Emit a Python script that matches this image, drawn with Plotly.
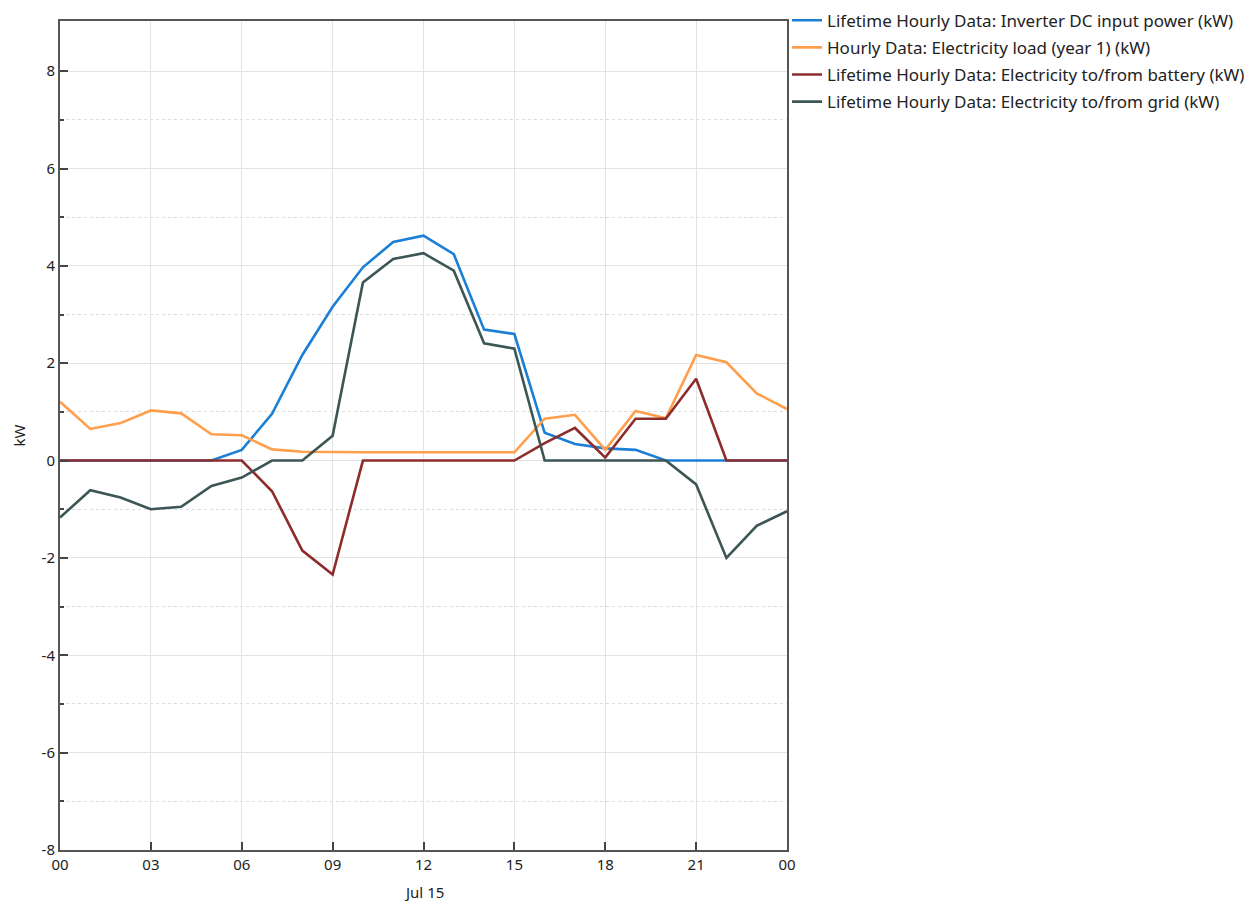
import plotly.graph_objects as go

hours = list(range(25))
inverter_dc = [0, 0, 0, 0, 0, 0, 0.22, 0.96, 2.17, 3.16, 3.97, 4.49, 4.62, 4.24, 2.69, 2.6,
               0.57, 0.34, 0.25, 0.22, 0, 0, 0, 0, 0]
load = [1.21, 0.65, 0.77, 1.03, 0.97, 0.54, 0.52, 0.23, 0.18, 0.17, 0.17, 0.17, 0.17, 0.17, 0.17, 0.17,
        0.86, 0.94, 0.22, 1.02, 0.87, 2.17, 2.02, 1.38, 1.06]
battery = [0, 0, 0, 0, 0, 0, 0, -0.63, -1.85, -2.34, 0, 0, 0, 0, 0, 0,
           0.36, 0.67, 0.06, 0.86, 0.86, 1.68, 0, 0, 0]
grid = [-1.17, -0.61, -0.76, -1.0, -0.95, -0.52, -0.35, 0, 0, 0.51, 3.66, 4.14, 4.26, 3.9, 2.41, 2.3,
        0, 0, 0, 0, 0, -0.49, -2.0, -1.34, -1.04]

series_names = [
    "Lifetime Hourly Data: Inverter DC input power (kW)",
    "Hourly Data: Electricity load (year 1) (kW)",
    "Lifetime Hourly Data: Electricity to/from battery (kW)",
    "Lifetime Hourly Data: Electricity to/from grid (kW)",
]
series_values = [inverter_dc, load, battery, grid]
series_colors = ["#1a7fd5", "#ff9f4c", "#8e2c2c", "#3c5555"]

x_tickvals = [0, 3, 6, 9, 12, 15, 18, 21, 24]
x_ticktext = ["00", "03", "06", "09", "12", "15", "18", "21", "00"]
y_tickvals = [-8, -6, -4, -2, 0, 2, 4, 6, 8]
y_ticktext = ["-8", "-6", "-4", "-2", "0", "2", "4", "6", "8"]
y_minor_vals = [-7, -5, -3, -1, 1, 3, 5, 7]
date_label = "Jul 15"
date_label_hour = 12

fig = go.Figure()
for i, (name, vals, col) in enumerate(zip(series_names, series_values, series_colors)):
    fig.add_trace(go.Scatter(x=hours, y=vals, mode="lines", name=name, legendgroup=f"g{i}",
                             line=dict(color=col, width=2.6)))

font = "Noto Sans, Open Sans, sans-serif"
fig.update_layout(
    width=1252, height=901,
    margin=dict(l=52, r=473, t=13, b=59, autoexpand=False),
    plot_bgcolor="white", paper_bgcolor="white",
    font=dict(family=font, size=15, color="#222"),
    showlegend=True,
    legend=dict(x=1.0, y=1.022, xanchor="left", yanchor="top", yref="paper",
                font=dict(size=17, color="#222"), tracegroupgap=2,
                itemwidth=30, bgcolor="rgba(0,0,0,0)"),
    annotations=[dict(x=date_label_hour, y=0, xref="x", yref="paper", yanchor="top",
                      yshift=-30, text=date_label, showarrow=False,
                      font=dict(size=15, color="#222"))],
)
fig.update_xaxes(
    range=[0, 24], tickmode="array", tickvals=x_tickvals, ticktext=x_ticktext,
    showgrid=True, gridcolor="#e3e3e3", gridwidth=1,
    showline=True, linecolor="#555", linewidth=2, mirror=True,
    ticks="inside", ticklen=8, tickwidth=2, tickcolor="#444", zeroline=False,
)
fig.update_yaxes(
    range=[-8, 9.03], tickmode="array", tickvals=y_tickvals, ticktext=y_ticktext,
    showgrid=True, gridcolor="#e3e3e3", gridwidth=1,
    showline=True, linecolor="#555", linewidth=2, mirror=True,
    ticks="inside", ticklen=8, tickwidth=2, tickcolor="#444", zeroline=False,
    title=dict(text="kW", standoff=12, font=dict(size=15)),
    minor=dict(tickvals=y_minor_vals, ticks="inside", ticklen=4,
               tickwidth=2, tickcolor="#444", showgrid=True, gridcolor="#dcdcdc",
               griddash="dot", gridwidth=1),
)

fig.write_html("out.html")
